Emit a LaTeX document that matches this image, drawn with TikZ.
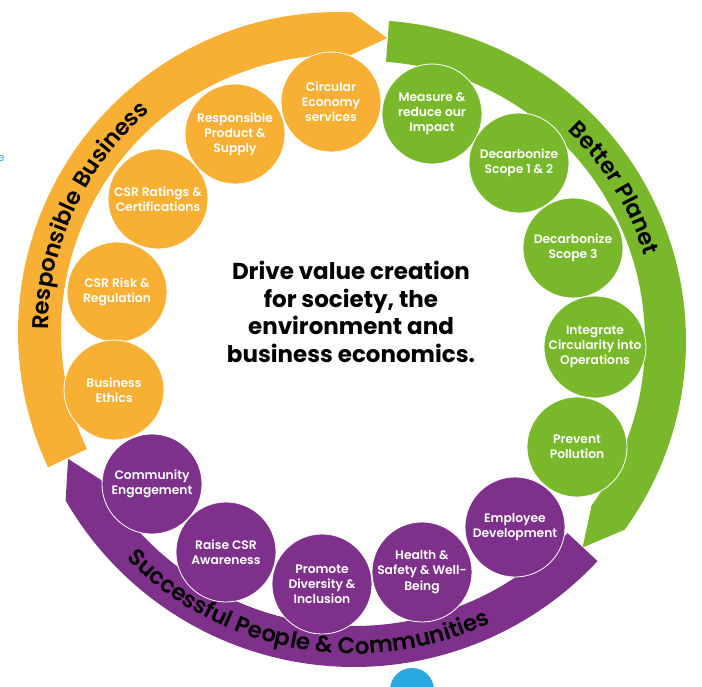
\documentclass[tikz,border=0pt]{standalone}
\usepackage{fontspec}
\setmainfont{Poppins}
\newfontfamily\semib{Poppins}[UprightFont=* SemiBold]
\usetikzlibrary{decorations.text}
\definecolor{orangeC}{HTML}{F7B034}
\definecolor{greenC}{HTML}{78B82A}
\definecolor{purpleC}{HTML}{7E318A}
\definecolor{blueC}{HTML}{29A8E0}
\newcommand{\bandfont}{\fontsize{22.8}{22.8}\selectfont\semib}
\begin{document}
\begin{tikzpicture}[x=1pt,y=-1pt,
  bub/.style={circle, fill=#1, draw=white, line width=0.8pt, minimum size=100pt,
    inner sep=0pt, text=white, align=center,
    font=\fontsize{12.3}{15.2}\selectfont\semib},
  bandtext/.style={decorate, decoration={text along path, text align=center,
    text={|\bandfont|#1}}}]
\useasboundingbox (0,0) rectangle (702,686);
\clip (0,0) rectangle (702,686);
% small fragments
\node[text=blueC, font=\fontsize{11}{11}\selectfont, inner sep=0pt] (frag) at (1,158) {e};
\fill[blueC] (412,690) circle (22);
% orange band (centre 338,332)
\fill[orangeC] plot[domain=155:272.5,samples=80] ({338+320*cos(\x)},{332+320*sin(\x)})
  -- ({338+298*cos(279.5)},{332+298*sin(279.5)})
  -- plot[domain=272.5:155,samples=80] ({338+277*cos(\x)},{332+277*sin(\x)}) -- cycle;
% green band (centre 365,341)
\fill[greenC] plot[domain=-85.7:36,samples=80] ({365+321*cos(\x)},{341+321*sin(\x)})
  -- ({365+300*cos(43.5)},{341+300*sin(43.5)})
  -- plot[domain=36:-85.7,samples=80] ({365+280*cos(\x)},{341+280*sin(\x)}) -- cycle;
% purple band (centre 354,334)
\fill[purpleC] plot[domain=43:150,samples=80] ({354+333*cos(\x)},{334+333*sin(\x)})
  -- ({354+312*cos(156.4)},{334+312*sin(156.4)})
  -- plot[domain=150:43,samples=80] ({354+292*cos(\x)},{334+292*sin(\x)}) -- cycle;
% band titles
\path[bandtext={Responsible Business}] plot[domain=150:260,samples=80] ({338+290*cos(\x)},{332+290*sin(\x)});
\path[bandtext={Better Planet}] plot[domain=-85:22,samples=80] ({365+292*cos(\x)},{341+292*sin(\x)});
\path[bandtext={Successful People {\&} Communities}] plot[domain=150:50,samples=80] ({354+320*cos(\x)},{334+320*sin(\x)});
% orange circles
\node[bub=orangeC] (o1) at (331,102) {Circular\\Economy\\services};
\node[bub=orangeC] (o2) at (235,134) {Responsible\\Product \&\\Supply};
\node[bub=orangeC] (o3) at (158,199) {CSR Ratings \&\\Certifications};
\node[bub=orangeC] (o4) at (117,292) {CSR Risk \&\\Regulation};
\node[bub=orangeC] (o5) at (114,390) {Business\\Ethics};
% green circles
\node[bub=greenC] (g1) at (432,114) {Measure \&\\reduce our\\Impact};
\node[bub=greenC] (g2) at (519,163) {Decarbonize\\Scope 1 \& 2};
\node[bub=greenC] (g3) at (573,248) {Decarbonize\\Scope 3};
\node[bub=greenC] (g4) at (595,347) {Integrate\\Circularity into\\Operations};
\node[bub=greenC] (g5) at (577,447) {Prevent\\Pollution};
% purple circles
\node[bub=purpleC] (p1) at (515,527) {Employee\\Development};
\node[bub=purpleC] (p2) at (422,572) {Health \&\\Safety \& Well-\\Being};
\node[bub=purpleC] (p3) at (322,584) {Promote\\Diversity \&\\Inclusion};
\node[bub=purpleC] (p4) at (226,552) {Raise CSR\\Awareness};
\node[bub=purpleC] (p5) at (152,484) {Community\\Engagement};
% centre text
\node[align=center, font=\fontsize{23}{27.5}\selectfont\bfseries] (mid) at (351,312)
  {Drive value creation\\for society, the\\environment and\\business economics.};
\end{tikzpicture}
\end{document}
